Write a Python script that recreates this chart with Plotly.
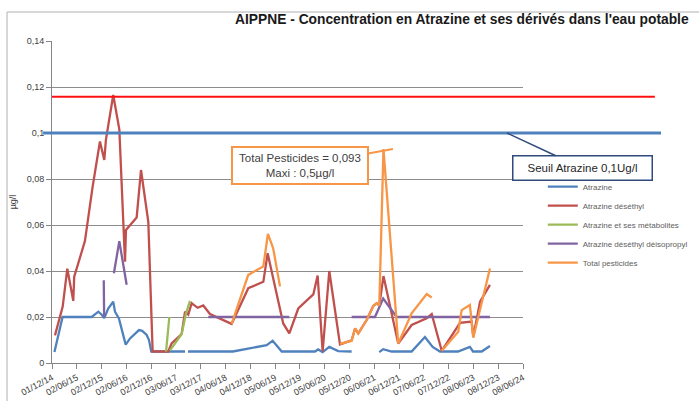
import plotly.graph_objects as go

# ---------------- data ----------------
tick_dates = ["2014-12-01", "2015-06-02", "2015-12-02", "2016-06-02", "2016-12-02",
              "2017-06-03", "2017-12-03", "2018-06-04", "2018-12-04", "2019-06-05",
              "2019-12-05", "2020-06-05", "2020-12-05", "2021-06-06", "2021-12-06",
              "2022-06-07", "2022-12-07", "2023-06-08", "2023-12-08", "2024-06-08"]
tick_labels = ["01/12/14", "02/06/15", "02/12/15", "02/06/16", "02/12/16", "03/06/17",
               "03/12/17", "04/06/18", "04/12/18", "05/06/19", "05/12/19", "05/06/20",
               "05/12/20", "06/06/21", "06/12/21", "07/06/22", "07/12/22", "08/06/23",
               "08/12/23", "08/06/24"]
y_ticks = [0, 0.02, 0.04, 0.06, 0.08, 0.1, 0.12, 0.14]
y_tick_labels = ["0", "0,02", "0,04", "0,06", "0,08", "0,1", "0,12", "0,14"]

atrazine_dates = ["2014-12-19", "2015-02-17", "2015-09-20", "2015-11-08", "2015-12-03",
                  "2015-12-22", "2016-01-20", "2016-02-26", "2016-03-10", "2016-04-08",
                  "2016-05-28", "2016-06-29", "2016-09-03", "2016-09-27", "2016-10-30",
                  "2016-11-16", "2016-12-03", "2017-08-09", "2017-08-20", "2017-08-31",
                  "2018-07-29", "2019-04-04", "2019-05-18", "2019-07-24", "2020-03-25",
                  "2020-04-18", "2020-05-21", "2020-07-09", "2020-09-13", "2020-12-21",
                  "2021-03-01", "2021-07-13", "2021-08-11", "2021-10-12", "2022-03-09",
                  "2022-06-15", "2022-08-11", "2022-10-04", "2023-02-14", "2023-05-13",
                  "2023-06-05", "2023-08-08", "2023-10-08"]
atrazine = [0.0048, 0.02, 0.02, 0.0223, 0.021,
            0.0195, 0.0237, 0.0267, 0.0223, 0.0194,
            0.008, 0.0107, 0.0143, 0.014, 0.0122,
            0.01, 0.005, 0.005, None, 0.005,
            0.005, 0.0078, 0.0097, 0.005, 0.005,
            0.0059, 0.0047, 0.007, 0.0052, 0.005,
            None, 0.0047, 0.006, 0.005, 0.005,
            0.0113, 0.007, 0.005, 0.005, 0.007,
            0.005, 0.005, 0.0074]

deethyl_dates = ["2014-12-23", "2015-02-18", "2015-03-24", "2015-05-07", "2015-05-14",
                 "2015-08-01", "2015-09-27", "2015-11-20", "2015-12-22", "2016-01-03",
                 "2016-02-26", "2016-04-11", "2016-05-23", "2016-05-30", "2016-08-17",
                 "2016-09-18", "2016-11-11", "2016-12-13", "2017-04-07", "2017-05-02",
                 "2017-07-15", "2017-08-09", "2017-09-02", "2017-09-27", "2017-11-10",
                 "2017-12-22", "2018-02-09", "2018-07-19", "2018-11-19", "2019-03-10",
                 "2019-04-11", "2019-08-04", "2019-09-18", "2019-11-23", "2020-03-13",
                 "2020-04-14", "2020-05-21", "2020-07-09", "2020-09-26", "2020-12-21",
                 "2021-01-15", "2021-02-08", "2021-04-11", "2021-05-30", "2021-06-24",
                 "2021-07-13", "2021-08-13", "2021-11-30", "2022-03-09", "2022-06-28",
                 "2022-08-04", "2022-10-17", "2023-03-01", "2023-05-26", "2023-06-07",
                 "2023-07-27", "2023-10-08"]
deethyl = [0.012, 0.0245, 0.041, 0.027, 0.0375,
           0.053, 0.0767, 0.0963, 0.0883, 0.097,
           0.1165, 0.1016, 0.044, 0.0578, 0.0633,
           0.0839, 0.0614, 0.005, 0.005, 0.0085,
           0.0126, 0.0223, 0.021, 0.026, 0.024,
           0.025, 0.0213, 0.017, 0.0325, 0.0353,
           0.0477, 0.0172, 0.0129, 0.0237, 0.0298,
           0.038, 0.005, 0.04, 0.0081, 0.0098,
           0.015, 0.0129, 0.0187, 0.0248, 0.026,
           0.025, 0.0378, 0.0085, 0.0165, 0.0194,
           0.0213, 0.0053, 0.0175, 0.018, 0.0114,
           0.0267, 0.034]

metab_dates = ["2017-03-22", "2017-04-15", "2017-04-18", "2017-04-20", "2017-07-15",
               "2017-08-16", "2017-09-15"]
metab = [0.005, 0.02, None, 0.0055, 0.0125, 0.0215, 0.027]

deisopropyl_dates = ["2015-12-18", "2015-12-21", "2016-01-20", "2016-03-02", "2016-04-11",
                     "2016-06-04", "2017-06-01", "2018-01-28", "2019-09-18", "2020-06-01",
                     "2020-12-21", "2021-06-11", "2021-08-11", "2021-11-18", "2023-10-08"]
deisopropyl = [0.036, 0.02, None, 0.039, 0.053,
               0.034, None, 0.02, 0.02, None,
               0.02, 0.02, 0.028, 0.02, 0.02]

total_dates = ["2018-07-19", "2018-11-19", "2019-03-10", "2019-04-13", "2019-05-22",
               "2019-07-11", "2020-01-01", "2020-09-26", "2020-12-21", "2021-01-15",
               "2021-02-08", "2021-04-11", "2021-05-30", "2021-06-24", "2021-07-13",
               "2021-08-13", "2021-11-30", "2022-03-09", "2022-06-28", "2022-08-04",
               "2022-09-10", "2022-10-17", "2023-02-16", "2023-03-13", "2023-05-13",
               "2023-06-07", "2023-10-08"]
total = [0.017, 0.0383, 0.042, 0.0561, 0.0498,
         0.0333, None, 0.0083, 0.0097, 0.015,
         0.0129, 0.0187, 0.0248, 0.026, 0.025,
         0.093, 0.0085, 0.0216, 0.030, 0.0285,
         None, 0.0053, 0.0136, 0.023, 0.0252,
         0.011, 0.0411]

seuil_atrazine = 0.1
seuil_red = 0.1158
peak_date = "2021-10-22"
peak_value = 0.093
seuil_point_date = "2024-02-11"

# ---------------- figure ----------------
fig = go.Figure()
series = [
    ("Atrazine", atrazine_dates, atrazine, "#4F81BD"),
    ("Atrazine déséthyl", deethyl_dates, deethyl, "#C0504D"),
    ("Atrazine et ses métabolites", metab_dates, metab, "#9BBB59"),
    ("Atrazine déséthyl déisopropyl", deisopropyl_dates, deisopropyl, "#8064A2"),
    ("Total pesticides", total_dates, total, "#F79646"),
]
for i, (name, xs, ys, col) in enumerate(series):
    fig.add_trace(go.Scatter(x=xs, y=ys, name=name, mode="lines",
                             line=dict(color=col, width=2.3),
                             connectgaps=False, legendgroup=f"g{i}"))

# threshold lines (extend beyond plot like the original drawing)
fig.add_shape(type="line", xref="paper", yref="y", x0=0.0, x1=1.28,
              y0=seuil_red, y1=seuil_red, line=dict(color="#FF1010", width=2))
fig.add_shape(type="line", xref="paper", yref="y", x0=-0.019, x1=1.293,
              y0=seuil_atrazine, y1=seuil_atrazine, line=dict(color="#4F81BD", width=3))

# outer frame
fig.add_shape(type="rect", xref="paper", yref="paper", x0=-0.0955, x1=1.5,
              y0=-0.3, y1=1.09, line=dict(color="#B0B0B0", width=1))

# callouts
fig.add_annotation(x=peak_date, y=peak_value, xref="x", yref="y",
                   text="Total Pesticides = 0,093<br>Maxi : 0,5µg/l",
                   showarrow=True, arrowhead=0, arrowwidth=2, arrowcolor="#F79646",
                   ax=-93, ay=16, bordercolor="#F79646", borderwidth=2, borderpad=3,
                   bgcolor="white", width=128, height=29,
                   font=dict(family="Liberation Sans", size=11.5, color="#404040"))
fig.add_annotation(x=seuil_point_date, y=seuil_atrazine, xref="x", yref="y",
                   text="Seuil Atrazine 0,1Ug/l",
                   showarrow=True, arrowhead=0, arrowwidth=1.5, arrowcolor="#2F4B7C",
                   ax=75, ay=35, bordercolor="#2F4B7C", borderwidth=1.5, borderpad=3,
                   bgcolor="white", width=132, height=17,
                   font=dict(family="Liberation Sans", size=11.5, color="#262626"))

# title
fig.add_annotation(x=(462 - 52) / 471, xref="paper", xanchor="center",
                   y=(363 - 20) / 322, yref="paper", yanchor="middle",
                   text="<b>AIPPNE - Concentration en Atrazine et ses dérivés dans l'eau potable</b>",
                   showarrow=False,
                   font=dict(family="Liberation Sans", size=13.8, color="#1a1a1a"))

fig.update_layout(
    width=699, height=401,
    margin=dict(l=52, r=176, t=41, b=38, autoexpand=False),
    paper_bgcolor="white", plot_bgcolor="white",
    showlegend=True,
    legend=dict(x=1.042, xanchor="left", y=0.593, yanchor="top",
                font=dict(family="Liberation Sans", size=8, color="#606060"),
                tracegroupgap=0, bgcolor="rgba(0,0,0,0)"),
    font=dict(family="Liberation Sans", size=9, color="#404040"),
)
fig.update_xaxes(type="date", range=[tick_dates[0], tick_dates[-1]],
                 tickmode="array", tickvals=tick_dates, ticktext=tick_labels,
                 tickangle=-28, ticks="outside", ticklen=5, tickcolor="#868686",
                 showline=True, linecolor="#868686", linewidth=1, showgrid=False,
                 zeroline=False, automargin=False, tickfont=dict(size=9, color="#404040"))
fig.update_yaxes(range=[0, 0.14], tickmode="array", tickvals=y_ticks, ticktext=y_tick_labels,
                 ticks="outside", ticklen=5, tickcolor="#868686",
                 showline=True, linecolor="#868686", linewidth=1, automargin=False,
                 showgrid=True, gridcolor="#8C8C8C", gridwidth=1, zeroline=False,
                 tickfont=dict(size=9, color="#404040"),
                 title=dict(text="µg/l", standoff=8, font=dict(size=9, color="#404040")))

fig.write_html("out.html", config={"displayModeBar": False},
               post_script="document.body.style.margin='0';document.body.style.overflow='hidden';")
